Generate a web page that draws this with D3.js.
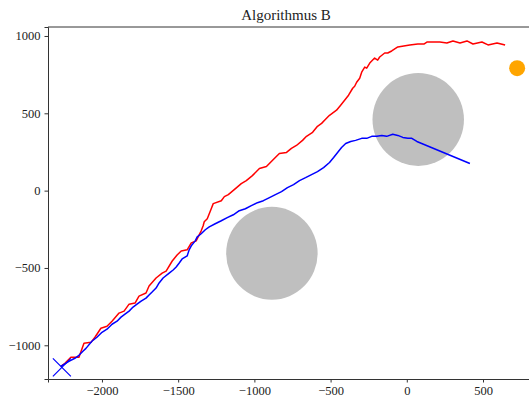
<!DOCTYPE html>
<html>
<head>
<meta charset="utf-8">
<script src="https://cdn.jsdelivr.net/npm/d3@7"></script>
<style>
  body { margin: 0; background: #fff; }
  svg { display: block; }
</style>
</head>
<body>
<svg id="chart"></svg>
<script>
// Path of the red run (x, y in world units)
const redX = [-2270, -2243, -2204, -2151, -2118, -2072, -2046, -2007, -1967, -1934, -1888, -1855, -1822, -1783, -1757, -1711,
  -1691, -1645, -1605, -1579, -1539, -1507, -1480, -1441, -1414, -1382, -1349, -1336, -1329, -1309, -1283, -1270, -1217, -1197,
  -1171, -1132, -1086, -1053, -1013, -967, -921, -882, -836, -789, -757, -724, -684, -658, -618, -586, -559, -533, -507, -461,
  -434, -408, -382, -355, -342, -329, -309, -296, -276, -263, -243, -211, -191, -178, -145, -125, -99, -59, -20, 20, 72, 112,
  132, 164, 217, 263, 303, 349, 395, 434, 493, 533, 592, 645];
const redY = [-1136, -1117, -1078, -1078, -987, -981, -948, -890, -877, -844, -792, -779, -734, -727, -682, -662,
  -617, -565, -533, -520, -455, -416, -390, -383, -338, -325, -260, -227, -201, -182, -117, -84, -65, -39,
  -26, 6, 45, 65, 97, 143, 156, 195, 240, 247, 273, 292, 325, 351, 377, 416, 435, 461, 487, 520,
  552, 584, 617, 662, 675, 701, 727, 766, 799, 792, 825, 857, 844, 864, 890, 890, 903, 929, 935, 942, 948, 948,
  961, 961, 961, 955, 968, 955, 968, 948, 961, 942, 955, 942];

// Path of the blue run
const blueX = [-2270, -2217, -2178, -2151, -2125, -2105, -2066, -2033, -2000, -1967, -1934, -1901, -1875, -1849, -1822, -1796,
  -1770, -1743, -1711, -1691, -1671, -1645, -1625, -1599, -1559, -1533, -1513, -1493, -1474, -1441, -1428, -1414, -1388, -1375,
  -1349, -1322, -1296, -1257, -1217, -1178, -1138, -1099, -1059, -1020, -980, -941, -901, -862, -822, -783, -743, -704, -664,
  -625, -586, -546, -507, -480, -454, -428, -401, -368, -336, -296, -263, -230, -197, -164, -132, -92, -59, -26, 7, 33, 66, 414];
const blueY = [-1136, -1104, -1084, -1065, -1039, -1020, -974, -948, -916, -896, -864, -844, -818, -799, -779, -753,
  -734, -714, -695, -675, -656, -630, -597, -565, -533, -513, -494, -468, -442, -422, -383, -357, -325, -299,
  -279, -253, -234, -214, -195, -175, -156, -130, -117, -97, -78, -65, -45, -26, -6, 19, 39, 65, 84,
  104, 123, 149, 182, 214, 247, 279, 305, 318, 325, 338, 338, 351, 351, 357, 351, 364, 357, 344, 338, 338, 318, 175];

// Obstacles and markers
const obstacles = [{ x: 75, y: 460, r: 300 }, { x: -885, y: -405, r: 300 }];
const start = { x: -2263, y: -1143 };
const goal = { x: 724, y: 792 };

const xTicks = [-2000, -1500, -1000, -500, 0, 500];
const yTicks = [-1000, -500, 0, 500, 1000];

const W = 529, H = 410;
const margin = { top: 27, right: -4, bottom: 31, left: 48 };
const width = W - margin.left - margin.right;
const height = H - margin.top - margin.bottom;

const xScale = d3.scaleLinear().domain([-2354, 828]).range([0, width]);
const yScale = d3.scaleLinear().domain([-1218, 1058]).range([height, 0]);

const svg = d3.select('#chart').attr('width', W).attr('height', H);
const g = svg.append('g').attr('transform', `translate(${margin.left},${margin.top})`);

const font = '"Liberation Serif", "DejaVu Serif", serif';

// Obstacles
g.selectAll('ellipse.obs')
  .data(obstacles)
  .join('ellipse')
  .attr('class', 'obs')
  .attr('cx', d => xScale(d.x))
  .attr('cy', d => yScale(d.y))
  .attr('rx', d => xScale(d.r) - xScale(0))
  .attr('ry', d => yScale(0) - yScale(d.r))
  .attr('fill', '#bfbfbf');

const line = d3.line().x(d => xScale(d[0])).y(d => yScale(d[1]));

g.append('path')
  .datum(redX.map((x, i) => [x, redY[i]]))
  .attr('d', line)
  .attr('fill', 'none').attr('stroke', '#ff0000').attr('stroke-width', 1.5)
  .attr('stroke-linejoin', 'round');

g.append('path')
  .datum(blueX.map((x, i) => [x, blueY[i]]))
  .attr('d', line)
  .attr('fill', 'none').attr('stroke', '#0000ff').attr('stroke-width', 1.5)
  .attr('stroke-linejoin', 'round');

// Start marker (x)
const sx = xScale(start.x), sy = yScale(start.y), s = 9;
g.append('path')
  .attr('d', `M${sx - s},${sy - s}L${sx + s},${sy + s}M${sx - s},${sy + s}L${sx + s},${sy - s}`)
  .attr('stroke', '#0000ff').attr('stroke-width', 1.2);

// Goal marker
g.append('circle')
  .attr('cx', xScale(goal.x)).attr('cy', yScale(goal.y)).attr('r', 8)
  .attr('fill', '#ffa500');

const fmt = d => d < 0 ? '\u2212' + Math.abs(d) : d;

// Axes
g.append('g').attr('transform', `translate(0,${height})`)
  .call(d3.axisBottom(xScale).tickValues(xTicks).tickSize(3.5).tickPadding(4).tickFormat(fmt))
  .call(ax => ax.select('.domain').attr('stroke', '#333'))
  .call(ax => ax.selectAll('line').attr('stroke', '#333'))
  .call(ax => ax.selectAll('text').attr('fill', '#222').attr('font-size', 12.5).attr('font-family', font));

g.append('g')
  .call(d3.axisLeft(yScale).tickValues(yTicks).tickSize(3.5).tickPadding(4).tickFormat(fmt))
  .call(ax => ax.select('.domain').attr('stroke', '#333'))
  .call(ax => ax.selectAll('line').attr('stroke', '#333'))
  .call(ax => ax.selectAll('text').attr('fill', '#222').attr('font-size', 12.5).attr('font-family', font));

// Top spine
g.append('line')
  .attr('x1', 0).attr('x2', width).attr('y1', 0).attr('y2', 0)
  .attr('stroke', '#333');

// Title
svg.append('text')
  .attr('x', 286).attr('y', 20)
  .attr('text-anchor', 'middle').attr('font-size', 15).attr('font-family', font).attr('fill', '#222')
  .text('Algorithmus B');
</script>
</body>
</html>
